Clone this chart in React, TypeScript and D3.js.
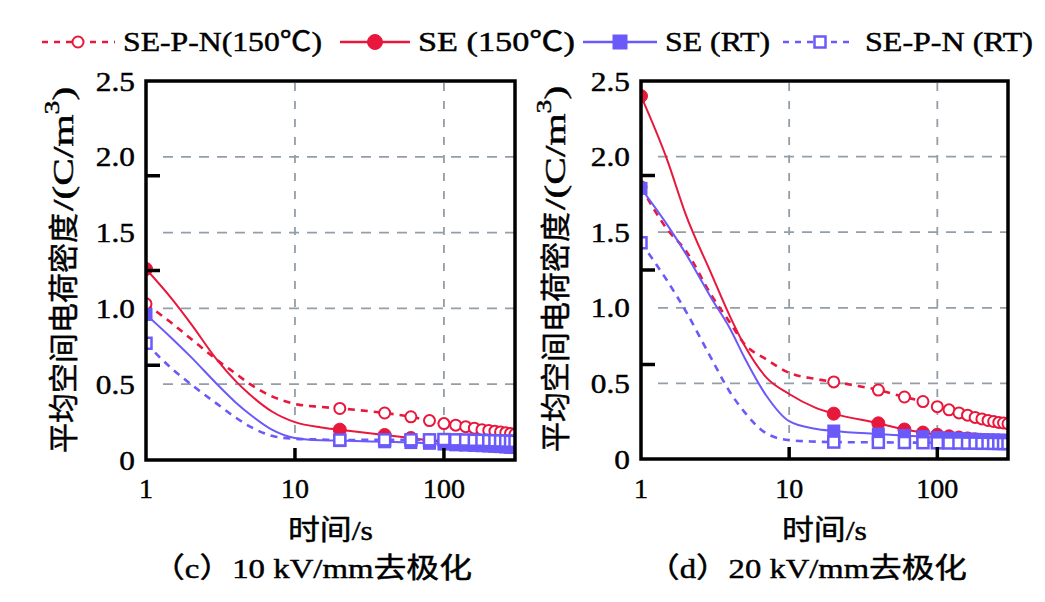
import React from 'react';
import * as d3 from 'd3';

// ---------- data ----------
const TIMES = [1, 1.5, 2, 3, 4, 5, 7, 10, 15, 20, 40, 60, 80, 100, 120, 140, 160, 180, 200, 220, 240, 260, 280, 300];

// panel (c) 10 kV/mm
const C_SEPN_150 = [1.03, 0.9, 0.8, 0.66, 0.57, 0.5, 0.42, 0.37, 0.35, 0.34, 0.31, 0.285, 0.26, 0.24, 0.23, 0.22, 0.21, 0.2, 0.195, 0.19, 0.185, 0.18, 0.175, 0.17];
const C_SE_150 = [1.26, 1.06, 0.9, 0.66, 0.52, 0.43, 0.32, 0.25, 0.215, 0.2, 0.165, 0.145, 0.13, 0.12, 0.115, 0.11, 0.105, 0.1, 0.097, 0.094, 0.091, 0.088, 0.085, 0.083];
const C_SE_RT = [0.96, 0.8, 0.68, 0.5, 0.38, 0.3, 0.2, 0.145, 0.13, 0.128, 0.12, 0.115, 0.11, 0.105, 0.1, 0.098, 0.096, 0.094, 0.092, 0.09, 0.088, 0.086, 0.085, 0.084];
const C_SEPN_RT = [0.77, 0.6, 0.5, 0.37, 0.28, 0.22, 0.16, 0.14, 0.135, 0.132, 0.133, 0.133, 0.133, 0.135, 0.133, 0.132, 0.13, 0.13, 0.128, 0.127, 0.126, 0.125, 0.124, 0.123];

// panel (d) 20 kV/mm
const D_SEPN_150 = [1.8, 1.52, 1.38, 1.08, 0.9, 0.76, 0.66, 0.57, 0.53, 0.51, 0.456, 0.41, 0.38, 0.346, 0.325, 0.305, 0.29, 0.275, 0.265, 0.255, 0.248, 0.242, 0.238, 0.233];
const D_SE_150 = [2.4, 1.98, 1.62, 1.22, 0.94, 0.75, 0.54, 0.43, 0.34, 0.3, 0.236, 0.195, 0.175, 0.16, 0.15, 0.142, 0.136, 0.13, 0.126, 0.122, 0.119, 0.116, 0.113, 0.11];
const D_SE_RT = [1.79, 1.55, 1.36, 1.06, 0.86, 0.67, 0.42, 0.25, 0.2, 0.185, 0.165, 0.155, 0.148, 0.142, 0.138, 0.135, 0.132, 0.13, 0.128, 0.127, 0.126, 0.125, 0.124, 0.123];
const D_SEPN_RT = [1.43, 1.18, 0.98, 0.66, 0.44, 0.31, 0.17, 0.125, 0.115, 0.112, 0.11, 0.109, 0.108, 0.107, 0.106, 0.106, 0.105, 0.105, 0.104, 0.104, 0.103, 0.103, 0.102, 0.102];

const SERIES_NAMES = ['SE-P-N(150℃)', 'SE (150℃)', 'SE (RT)', 'SE-P-N (RT)'];
const Y_LABELS = ['0', '0.5', '1.0', '1.5', '2.0', '2.5'];
const Y_LABEL_VALUES = [0, 0.5, 1, 1.5, 2, 2.5];
const Y_GRID = [0.5, 1, 1.5, 2];
const Y_TICK_MARKS = [0.625, 1.25, 1.875];
const X_TICKS = [1, 10, 100];
const X_TICK_LABELS = ['1', '10', '100'];
const X_GRID = [10, 100];
const Y_TITLE_CJK = '平均空间电荷密度';
const Y_TITLE_UNIT = ['/(C/m', '3', ')'];
const X_TITLE = '时间/s';
const CAPTIONS = ['（c）10 kV/mm去极化', '（d）20 kV/mm去极化'];

const RED = '#e8173c';
const BLUE = '#6a5af9';
const GRID = '#939ea8';
const FONT = '"Liberation Serif", "Noto Sans CJK SC", serif';

type Style = { color: string; dashed: boolean; marker: 'circle' | 'square'; filled: boolean };
const STYLES: Style[] = [
  { color: RED, dashed: true, marker: 'circle', filled: false },
  { color: RED, dashed: false, marker: 'circle', filled: true },
  { color: BLUE, dashed: false, marker: 'square', filled: true },
  { color: BLUE, dashed: true, marker: 'square', filled: false },
];

function Marker({ x, y, s, big }: { x: number; y: number; s: Style; big?: boolean }) {
  const r = big ? 7.5 : 6.5;
  if (s.marker === 'circle') {
    return s.filled ? (
      <circle cx={x} cy={y} r={r} fill={s.color} stroke={s.color} strokeWidth={1} />
    ) : (
      <circle cx={x} cy={y} r={r - 1} fill="#fff" stroke={s.color} strokeWidth={2} />
    );
  }
  return s.filled ? (
    <rect x={x - r} y={y - r} width={2 * r} height={2 * r} fill={s.color} />
  ) : (
    <rect x={x - r + 1} y={y - r + 1} width={2 * r - 2} height={2 * r - 2} fill="#fff" stroke={s.color} strokeWidth={2.5} />
  );
}

type PanelProps = {
  id: string;
  left: number;
  right: number;
  top: number;
  bottom: number;
  series: number[][];
  caption: string;
  titleX: number;
  titleBottom: number;
};

const TXT = { fill: '#000', stroke: '#000', strokeWidth: 0.45 };

function Panel({ id, left, right, top, bottom, series, caption, titleX, titleBottom }: PanelProps) {
  const x = d3.scaleLog().domain([1, 300]).range([left, right]);
  const y = d3.scaleLinear().domain([0, 2.5]).range([bottom, top]);
  const line = d3
    .line<number>()
    .x((_, i) => x(TIMES[i]))
    .y((d) => y(d))
    .curve(d3.curveMonotoneX);
  const cx = (left + right) / 2;
  const order = [1, 0, 2, 3];
  const cjkLen = 240;
  return (
    <g>
      <defs>
        <clipPath id={id}>
          <rect x={left} y={top} width={right - left} height={bottom - top} />
        </clipPath>
      </defs>
      {Y_GRID.map((v) => (
        <line key={'gy' + v} x1={left + 17} x2={right} y1={y(v)} y2={y(v)} stroke={GRID} strokeWidth={1.8} strokeDasharray="10,8" />
      ))}
      {X_GRID.map((t) => (
        <line key={'gx' + t} x1={x(t)} x2={x(t)} y1={top + 2} y2={bottom - 18} stroke={GRID} strokeWidth={1.8} strokeDasharray="8,10" />
      ))}
      <g clipPath={`url(#${id})`}>
        {order.map((si) => {
          const s = STYLES[si];
          const vals = series[si];
          return (
            <g key={si}>
              <path
                d={line(vals) || ''}
                fill="none"
                stroke={s.color}
                strokeWidth={s.dashed ? 2.6 : 2}
                strokeDasharray={s.dashed ? '7,6' : undefined}
              />
              {vals.map((v, i) =>
                TIMES[i] === 1 || TIMES[i] >= 20 ? <Marker key={i} x={x(TIMES[i])} y={y(v)} s={s} /> : null
              )}
            </g>
          );
        })}
      </g>
      <rect x={left} y={top} width={right - left} height={bottom - top} fill="none" stroke="#000" strokeWidth={3.5} />
      {Y_TICK_MARKS.map((v) => (
        <line key={'ty' + v} x1={left} x2={left + 14} y1={y(v)} y2={y(v)} stroke="#000" strokeWidth={3.5} />
      ))}
      {X_TICKS.slice(1).map((t) => (
        <line key={'tx' + t} x1={x(t)} x2={x(t)} y1={bottom} y2={bottom - 12} stroke="#000" strokeWidth={3.5} />
      ))}
      <g {...TXT}>
        {Y_LABEL_VALUES.map((v, i) => (
          <text
            key={'ly' + v}
            transform={`translate(${left - 11},${y(v) + 9.5}) scale(1.12,1)`}
            textAnchor="end"
            fontSize={28}
          >
            {Y_LABELS[i]}
          </text>
        ))}
        {X_TICKS.map((t, i) => (
          <text key={'lx' + t} x={x(t)} y={498} textAnchor="middle" fontSize={28}>
            {X_TICK_LABELS[i]}
          </text>
        ))}
        <text x={cx} y={540} textAnchor="middle" fontSize={28} textLength={85} lengthAdjust="spacingAndGlyphs">
          {X_TITLE}
        </text>
        <text
          transform={`translate(${titleX},${titleBottom}) rotate(-90)`}
          dominantBaseline="central"
          fontSize={30}
          textLength={cjkLen}
          lengthAdjust="spacingAndGlyphs"
        >
          {Y_TITLE_CJK}
        </text>
        <text
          transform={`translate(${titleX},${titleBottom - cjkLen - 2}) rotate(-90) scale(1.38,1)`}
          dominantBaseline="central"
          fontSize={30}
        >
          {Y_TITLE_UNIT[0]}
          <tspan fontSize={20} dy={-11}>
            {Y_TITLE_UNIT[1]}
          </tspan>
          <tspan dy={11}>{Y_TITLE_UNIT[2]}</tspan>
        </text>
        <text x={left + 6} y={578} fontSize={28} textLength={320} lengthAdjust="spacingAndGlyphs">
          {caption}
        </text>
      </g>
    </g>
  );
}

const LEGEND_ITEMS = [
  { x1: 42, x2: 115, mx: 78, tx: 123, tl: 199 },
  { x1: 340, x2: 410, mx: 375, tx: 418, tl: 157 },
  { x1: 583, x2: 657, mx: 620, tx: 665, tl: 105 },
  { x1: 783, x2: 855, mx: 820, tx: 865, tl: 168 },
];

function Legend() {
  return (
    <g>
      {LEGEND_ITEMS.map((it, i) => {
        const s = STYLES[i];
        return (
          <g key={i}>
            <line
              x1={it.x1}
              x2={it.x2}
              y1={42}
              y2={42}
              stroke={s.color}
              strokeWidth={2.6}
              strokeDasharray={s.dashed ? '6,6' : undefined}
            />
            <Marker x={it.mx} y={42} s={s} big={s.filled} />
            <text x={it.tx} y={51} fontSize={27} textLength={it.tl} lengthAdjust="spacingAndGlyphs" {...TXT}>
              {SERIES_NAMES[i]}
            </text>
          </g>
        );
      })}
    </g>
  );
}

export default function App() {
  return (
    <svg
      width={1045}
      height={602}
      style={{ position: 'absolute', left: 0, top: 0, background: '#fff', fontFamily: FONT }}
    >
      <rect x={0} y={0} width={1045} height={602} fill="#fff" />
      <Legend />
      <Panel
        id="clipC"
        left={146}
        right={515}
        top={81}
        bottom={460}
        series={[C_SEPN_150, C_SE_150, C_SE_RT, C_SEPN_RT]}
        caption={CAPTIONS[0]}
        titleX={63}
        titleBottom={453}
      />
      <Panel
        id="clipD"
        left={641}
        right={1008}
        top={81}
        bottom={459}
        series={[D_SEPN_150, D_SE_150, D_SE_RT, D_SEPN_RT]}
        caption={CAPTIONS[1]}
        titleX={555}
        titleBottom={452}
      />
    </svg>
  );
}
